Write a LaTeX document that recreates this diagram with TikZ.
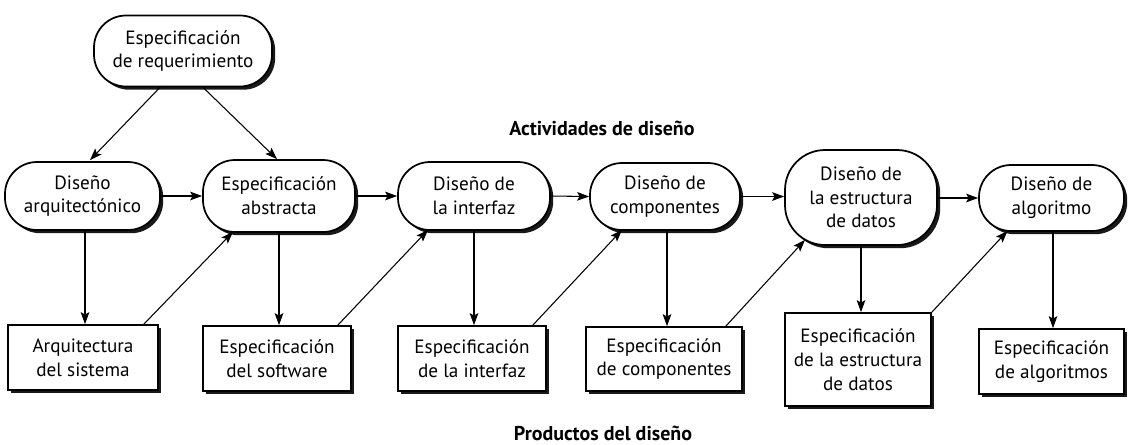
\documentclass[tikz,border=0pt]{standalone}
\usepackage{fontspec}
\setmainfont{PT Sans}
\usetikzlibrary{arrows.meta,shadows,calc}
\tikzset{
  shad/.style={drop shadow={shadow xshift=2.4pt, shadow yshift=-2.4pt, fill=black, opacity=0.9}},
  txt/.style={align=center, inner sep=0pt, font=\fontsize{14.4}{17.8}\selectfont},
  act/.style={txt, draw, line width=1.3pt, rounded corners=24pt, fill=white, shad},
  prod/.style={txt, draw, line width=1.3pt, fill=white, shad},
  arr/.style={-{Stealth[length=9pt,width=6.5pt,inset=1.8pt]}, line width=0.8pt},
  title/.style={font=\bfseries\fontsize{15}{17}\selectfont, inner sep=0pt}
}
\begin{document}
\begin{tikzpicture}[x=0.75pt,y=-0.75pt]
\useasboundingbox[fill=white] (0,0) rectangle (1130,444);

% activities
\node[act, minimum width=133.5pt, minimum height=53.25pt] (req) at (183,51) {Especificación\\de requerimiento};
\node[act, minimum width=116.25pt, minimum height=51pt] (arq) at (82.5,196) {Diseño\\arquitectónico};
\node[act, minimum width=114pt, minimum height=54pt] (abs) at (279,196) {Especificación\\abstracta};
\node[act, minimum width=114pt, minimum height=51pt] (int) at (474,196) {Diseño de\\la interfaz};
\node[act, minimum width=112.5pt, minimum height=50.25pt] (comp) at (665,196.5) {Diseño de\\componentes};
\node[act, minimum width=114pt, minimum height=71.25pt, rounded corners=30pt] (est) at (861,197.5) {Diseño de\\la estructura\\de datos};
\node[act, minimum width=108.75pt, minimum height=49.5pt] (alg) at (1051.5,198) {Diseño de\\algoritmo};

% products
\node[prod, minimum width=112.5pt, minimum height=48.75pt] (b1) at (83,357.5) {Arquitectura\\del sistema};
\node[prod, minimum width=111pt, minimum height=48.75pt] (b2) at (277,358.5) {Especificación\\del software};
\node[prod, minimum width=111pt, minimum height=48.75pt] (b3) at (472,358.5) {Especificación\\de la interfaz};
\node[prod, minimum width=117pt, minimum height=48pt] (b4) at (664,359) {Especificación\\de componentes};
\node[prod, minimum width=109.5pt, minimum height=69.75pt] (b5) at (858,359.5) {Especificación\\de la estructura\\de datos};
\node[prod, minimum width=108.75pt, minimum height=48.75pt] (b6) at (1051.5,361.5) {Especificación\\de algoritmos};

% titles
\node[title] (t1) at (602,128) {Actividades de diseño};
\node[title] (t2) at (603,433) {Productos del diseño};

% arrows from requirement
\draw[arr] ($(req.south)+(-23,0)$) -- ($(arq.north)+(7.5,-1)$);
\draw[arr] ($(req.south)+(20,0)$) -- ($(abs.north)+(-2,0)$);

% horizontal arrows
\draw[arr] (arq.east) -- (abs.west);
\draw[arr] (abs.east) -- (int.west);
\draw[arr] (int.east) -- (comp.west);
\draw[arr] (comp.east) -- (comp.east -| est.west);
\draw[arr] (est.east |- alg.west) -- (alg.west);

% down arrows
\draw[arr] ($(arq.south)+(2.5,0)$) coordinate (d1) -- (d1 |- b1.north);
\draw[arr] (abs.south) -- (abs.south |- b2.north);
\draw[arr] (int.south) -- (int.south |- b3.north);
\draw[arr] ($(comp.south)+(2,0)$) coordinate (d4) -- (d4 |- b4.north);
\draw[arr] (est.south) -- (est.south |- b5.north);
\draw[arr] ($(alg.south)+(1.5,0)$) coordinate (d6) -- (d6 |- b6.north);

% diagonal feedback arrows
\draw[arr] ($(b1.north east)+(-15,0)$) -- ($(abs.south)+(-46,-1)$);
\draw[arr] ($(b2.north east)+(-14,0)$) -- ($(int.south)+(-46,-1)$);
\draw[arr] ($(b3.north east)+(-14,0)$) -- ($(comp.south)+(-43,-1)$);
\draw[arr] ($(b4.north east)+(-17,0)$) -- ($(est.south)+(-56,-6)$);
\draw[arr] (b5.north east) -- ($(alg.south)+(-44,-1)$);
\end{tikzpicture}
\end{document}
